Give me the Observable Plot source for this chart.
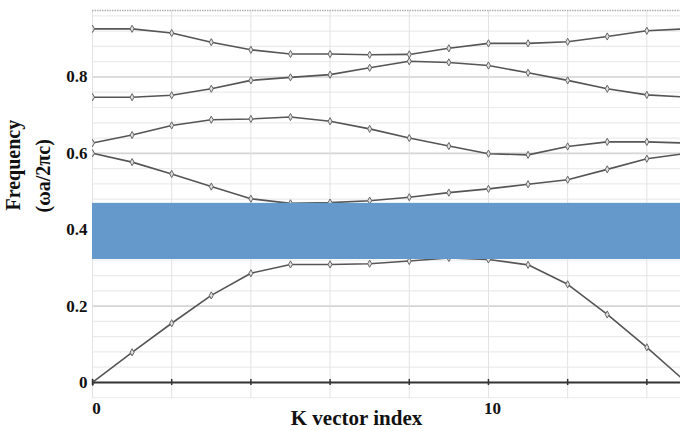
<!DOCTYPE html>
<html>
<head>
<meta charset="utf-8">
<script src="https://cdn.jsdelivr.net/npm/d3@7"></script>
<script src="https://cdn.jsdelivr.net/npm/@observablehq/plot@0.6"></script>
<style>
  html, body { margin: 0; padding: 0; background: #fff; }
</style>
</head>
<body>
<div id="chart"></div>
<script>
// K vector indices
const kIndex = [0, 1, 2, 3, 4, 5, 6, 7, 8, 9, 10, 11, 12, 13, 14, 15];
// Frequency bands (ωa/2πc)
const band1 = [0.000, 0.079, 0.155, 0.228, 0.286, 0.309, 0.309, 0.311, 0.318, 0.326, 0.322, 0.308, 0.257, 0.178, 0.092, 0.000];
const band2 = [0.600, 0.577, 0.546, 0.513, 0.481, 0.469, 0.471, 0.476, 0.485, 0.497, 0.507, 0.519, 0.531, 0.558, 0.586, 0.600];
const band3 = [0.627, 0.648, 0.673, 0.688, 0.690, 0.695, 0.684, 0.664, 0.640, 0.619, 0.599, 0.596, 0.618, 0.630, 0.630, 0.627];
const band4 = [0.747, 0.747, 0.752, 0.769, 0.791, 0.799, 0.806, 0.824, 0.841, 0.838, 0.830, 0.811, 0.791, 0.769, 0.753, 0.747];
const band5 = [0.926, 0.926, 0.915, 0.891, 0.871, 0.860, 0.860, 0.858, 0.859, 0.875, 0.888, 0.888, 0.892, 0.906, 0.921, 0.926];
const bandNames = ["1", "2", "3", "4", "5"];
const bands = [band1, band2, band3, band4, band5];
// Photonic band gap
const gapBottom = 0.322;
const gapTop = 0.469;
// Axes
const xDomain = [0, 14.85];
const yDomain = [-0.042, 0.974];
const xTicks = [0, 10];
const yTicks = [0, 0.2, 0.4, 0.6, 0.8];
const yGrid = [-0.04, 0, 0.04, 0.08, 0.12, 0.16, 0.2, 0.24, 0.28, 0.32, 0.36, 0.4, 0.44, 0.48, 0.52, 0.56, 0.6, 0.64, 0.68, 0.72, 0.76, 0.8, 0.84, 0.88, 0.92, 0.96];
const yMajor = [0.2, 0.4, 0.6, 0.8];
const xGrid = [0, 2, 4, 6, 8, 10, 12, 14];
const xLabel = "K vector index";
const yLabel1 = "Frequency";
const yLabel2 = "(ωa/2πc)";

const rows = [];
bands.forEach((b, i) => b.forEach((v, j) => rows.push({band: bandNames[i], k: kIndex[j], f: v})));

const thinDiamond = {
  draw(ctx, size) {
    const s = Math.sqrt(size) / 2;
    ctx.moveTo(0, -s * 1.35);
    ctx.lineTo(s * 0.75, 0);
    ctx.lineTo(0, s * 1.35);
    ctx.lineTo(-s * 0.75, 0);
    ctx.closePath();
  }
};

const serif = "'Liberation Serif', 'Times New Roman', serif";

const chart = Plot.plot({
  width: 680,
  height: 431,
  marginLeft: 92,
  marginRight: 0,
  marginTop: 10,
  marginBottom: 33,
  style: {fontFamily: serif, fontWeight: "bold", fontSize: "17px", color: "#111", background: "#fff"},
  x: {domain: xDomain, axis: null},
  y: {domain: yDomain, axis: null},
  marks: [
    Plot.ruleY(yGrid, {stroke: "#ebebeb", strokeWidth: 1.2}),
    Plot.ruleY(yMajor, {stroke: "#d6d6d6", strokeWidth: 1.6}),
    Plot.ruleX(xGrid, {stroke: "#e2e2e2", strokeWidth: 1}),
    Plot.ruleY([yDomain[1]], {stroke: "#b0b0b0", strokeWidth: 1.5, strokeDasharray: "1.5,1"}),
    Plot.line(rows, {x: "k", y: "f", z: "band", stroke: "#555", strokeWidth: 1.6, clip: true}),
    Plot.dot(rows, {x: "k", y: "f", symbol: thinDiamond, r: 3, fill: "#e0e0e0", stroke: "#666", strokeWidth: 1, clip: true}),
    Plot.rectY([{x1: xDomain[0], x2: xDomain[1], y1: gapBottom, y2: gapTop}], {x1: "x1", x2: "x2", y1: "y1", y2: "y2", fill: "#6598cb"}),
    Plot.ruleY([0], {stroke: "#333", strokeWidth: 2}),
    Plot.ruleX(xGrid, {y1: -0.008, y2: 0.008, stroke: "#333", strokeWidth: 1.5}),
    Plot.axisY(yTicks, {tickSize: 0, tickPadding: 5, tickFormat: d => d === 0 ? "0" : d3.format(".1f")(d), fontSize: 17, fontWeight: "bold", fontFamily: serif, label: null}),
    Plot.axisX(xTicks, {tickSize: 0, tickPadding: 3, tickFormat: d => String(d), fontSize: 17, fontWeight: "bold", fontFamily: serif, label: null, dx: 4}),
    Plot.text([xLabel], {frameAnchor: "bottom", lineAnchor: "top", dy: 12, dx: -30, fontSize: 21, fontWeight: "bold", fontFamily: serif, fill: "#111"}),
    Plot.text([yLabel1], {frameAnchor: "left", rotate: -90, dx: -79, dy: 6, fontSize: 20, fontWeight: "bold", fontFamily: serif, fill: "#111"}),
    Plot.text([yLabel2], {frameAnchor: "left", rotate: -90, dx: -49, dy: 8, fontSize: 20, fontWeight: "bold", fontFamily: serif, fill: "#111"})
  ]
});
document.getElementById("chart").appendChild(chart);
</script>
</body>
</html>
